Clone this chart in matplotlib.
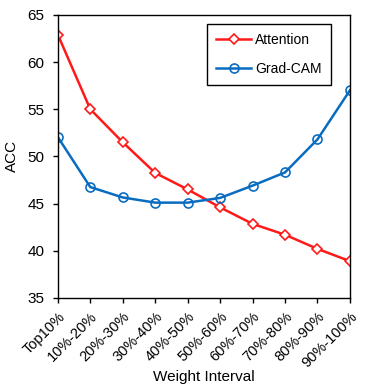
import matplotlib
matplotlib.use("Agg")
import matplotlib.pyplot as plt

plt.rcParams["font.family"] = ["Liberation Sans", "DejaVu Sans"]

# data
intervals = ["Top10%", "10%-20%", "20%-30%", "30%-40%", "40%-50%",
             "50%-60%", "60%-70%", "70%-80%", "80%-90%", "90%-100%"]
attention = [62.9, 55.0, 51.5, 48.25, 46.5, 44.6, 42.85, 41.7, 40.2, 38.9]
gradcam = [52.05, 46.75, 45.65, 45.1, 45.1, 45.6, 46.9, 48.3, 51.8, 57.0]

fig = plt.figure(figsize=(3.66, 3.91), dpi=100)
ax = fig.add_axes([0.158, 0.238, 0.798, 0.724])

x = range(len(intervals))
ax.plot(x, attention, color="#ff1a1a", lw=1.8, marker="D", ms=5,
        mfc="white", mec="#ff1a1a", mew=1.2, label="Attention")
ax.plot(x, gradcam, color="#0a6cc0", lw=1.8, marker="o", ms=6.5,
        mfc="none", mec="#0a6cc0", mew=1.2, label="Grad-CAM")

ax.set_xlim(0, len(intervals) - 1)
ax.set_ylim(35, 65)
ax.set_yticks(range(35, 66, 5))
ax.set_xticks(list(x))
ax.set_xticklabels(intervals, rotation=45, ha="right", rotation_mode="anchor")
ax.tick_params(direction="out", length=3.6, width=1, pad=5)
ax.tick_params(axis="x", labelsize=10.5)
ax.tick_params(axis="y", labelsize=11, pad=6)
for s in ax.spines.values():
    s.set_linewidth(1)

ax.set_xlabel("Weight Interval", fontsize=11, labelpad=0)
ax.set_ylabel("ACC", fontsize=11, labelpad=6)

leg = ax.legend(loc="upper right", bbox_to_anchor=(0.935, 0.968), fontsize=10,
                fancybox=False, edgecolor="black", framealpha=1,
                handlelength=2.5, handletextpad=0.3, labelspacing=1.1,
                borderpad=0.65, borderaxespad=0)
leg.get_frame().set_linewidth(1)

fig.savefig("out.png", dpi=100)
